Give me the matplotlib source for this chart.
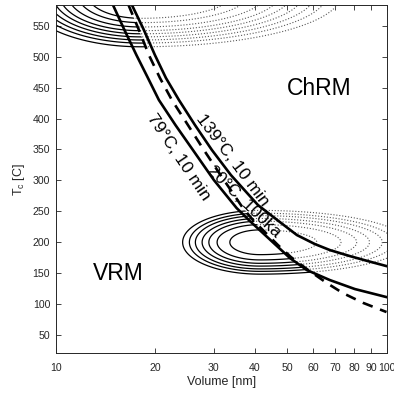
import numpy as np
import matplotlib
matplotlib.use('Agg')
import matplotlib.pyplot as plt
from matplotlib.patches import Polygon

plt.rcParams['font.family'] = ['Liberation Sans', 'DejaVu Sans']
plt.rcParams['mathtext.default'] = 'regular'

# blocking curves: grain volume [nm] vs Curie temperature [C]
vol_79 = [14.90, 16.14, 17.54, 18.94, 20.51, 23.01, 25.99, 30.07, 35.23,
          38.64, 42.30, 46.64, 51.05, 57.43, 67.42, 80.22, 100.0]
tc_79 = [583.5, 543.0, 502.6, 467.1, 429.9, 389.5, 349.1, 300.6, 255.3,
         234.3, 214.9, 193.9, 174.5, 155.1, 138.9, 124.4, 111.4]

vol_139 = [17.00, 18.48, 19.95, 21.54, 23.58, 26.36, 29.66, 33.86, 40.86,
           47.61, 53.58, 60.74, 67.42, 77.45, 87.80, 100.0]
tc_139 = [583.5, 543.0, 502.6, 465.5, 429.9, 389.5, 349.1, 308.6, 260.2,
          232.7, 211.7, 197.1, 187.4, 177.7, 169.6, 161.5]

vol_vrm = [16.60, 17.85, 19.13, 20.66, 22.45, 25.10, 28.05, 31.80, 36.81,
           39.72, 43.18, 46.96, 51.40, 57.43, 66.02, 73.79, 84.82, 100.0]
tc_vrm = [583.5, 543.0, 502.6, 465.5, 429.9, 389.5, 349.1, 305.4, 255.3,
          234.3, 214.9, 195.5, 176.1, 156.7, 134.1, 117.9, 102.2, 87.2]

# grain populations: centre (volume, Tc), log-volume spread per degree
# on the small / large volume side, and contour radii in degrees
low_centre = (41.4, 200)
low_spread = (0.00453, 0.00861)
low_radii = [20, 28.5, 34, 38.5, 43, 47, 51.5]

high_centre = (18.1, 600)
high_spread = (0.00423, 0.0072)
high_radii = [38, 45, 52, 58, 63, 68, 73, 78, 84]

x_ticks = [10, 20, 30, 40, 50, 60, 70, 80, 90, 100]
y_ticks = [50, 100, 150, 200, 250, 300, 350, 400, 450, 500, 550]

ink = '#262626'

fig = plt.figure(figsize=(3.94, 3.95), dpi=100)
ax = fig.add_axes([0.1414, 0.1063, 0.8396, 0.881])
ax.set_xscale('log')
ax.set_xlim(10, 100)
ax.set_ylim(21, 583.5)

lx = np.linspace(0.9, 2.1, 700)
tt = np.linspace(0, 720, 700)
LX, TT = np.meshgrid(lx, tt)


def population_radius(centre, spread):
    x0 = np.log10(centre[0])
    s = np.where(LX < x0, spread[0], spread[1])
    return np.sqrt(((LX - x0) / s) ** 2 + (TT - centre[1]) ** 2)


# regions on either side of the VRM curve
left_pts = [(1, 1000), (vol_vrm[0], 1000)] + list(zip(vol_vrm, tc_vrm)) + \
    [(vol_vrm[-1] * 10, tc_vrm[-1]), (vol_vrm[-1] * 10, -200), (1, -200)]
right_pts = [(vol_vrm[0], 1000)] + list(zip(vol_vrm, tc_vrm)) + \
    [(vol_vrm[-1] * 10, tc_vrm[-1]), (1000, 1000)]

for centre, spread, radii in [(low_centre, low_spread, low_radii),
                              (high_centre, high_spread, high_radii)]:
    R = population_radius(centre, spread)
    for pts, style, col, lw in [(left_pts, '-', 'black', 0.9),
                                (right_pts, ':', '0.35', 0.8)]:
        cs = ax.contour(10 ** LX, TT, R, levels=radii, colors=col,
                        linewidths=lw, linestyles=style)
        clip = Polygon(pts, closed=True, transform=ax.transData,
                       facecolor='none', edgecolor='none')
        ax.add_patch(clip)
        cs.set_clip_path(clip)

ax.plot(vol_79, tc_79, color='black', lw=1.9, solid_joinstyle='round')
ax.plot(vol_139, tc_139, color='black', lw=1.9, solid_joinstyle='round')
ax.plot(vol_vrm, tc_vrm, color='black', lw=1.9, ls=(0, (4, 3)))

label_kw = dict(fontsize=12.5, ha='center', va='center', rotation_mode='anchor')
ax.text(34.3, 333, '139°C, 10 min', rotation=-53, **label_kw)
ax.text(23.5, 337, '79°C, 10 min', rotation=-56, **label_kw)
ax.text(37.1, 265, '20°C, 100ka', rotation=-44, **label_kw)
ax.text(62.4, 449, 'ChRM', fontsize=16.5, ha='center', va='center')
ax.text(15.5, 150, 'VRM', fontsize=16.5, ha='center', va='center')

ax.set_xticks(x_ticks)
ax.set_xticklabels([str(t) for t in x_ticks])
ax.xaxis.set_minor_locator(matplotlib.ticker.NullLocator())
ax.set_yticks(y_ticks)
ax.tick_params(direction='in', top=True, right=True, length=3.5, width=0.6,
               color=ink, labelcolor=ink, labelsize=7.6)
ax.tick_params(axis='x', pad=7)
ax.tick_params(axis='y', pad=4)
for sp in ax.spines.values():
    sp.set_color(ink)
    sp.set_linewidth(0.7)

ax.set_xlabel('Volume [nm]', fontsize=9, color=ink, labelpad=2)
ax.set_ylabel('T$_c$ [C]', fontsize=9, color=ink, labelpad=4)

fig.savefig('out.png', dpi=100)
